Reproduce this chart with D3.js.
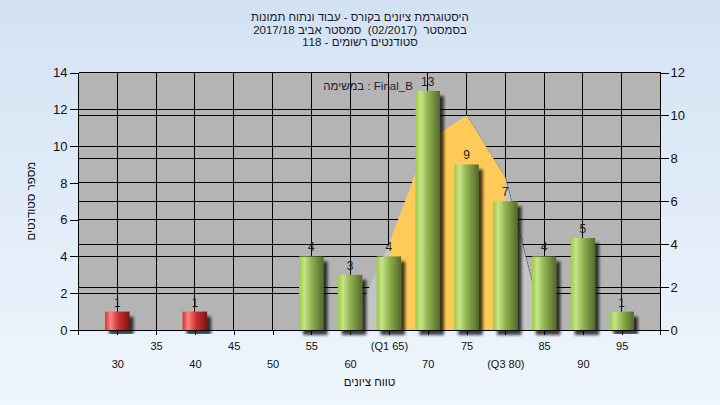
<!DOCTYPE html>
<html>
<head>
<meta charset="utf-8">
<script src="https://cdn.jsdelivr.net/npm/d3@7"></script>
<style>
  html, body { margin: 0; padding: 0; }
  body { width: 720px; height: 405px; overflow: hidden; }
  text { font-family: "Liberation Sans", Arial, sans-serif; }
</style>
</head>
<body>
<svg id="chart" width="720" height="405"></svg>
<script>
// ---- data ----
const categories = [30, 35, 40, 45, 50, 55, 60, 65, 70, 75, 80, 85, 90, 95];
const counts     = [1, 0, 1, 0, 0, 4, 3, 4, 13, 9, 7, 4, 5, 1];
const tickLabels = ["30", "35", "40", "45", "50", "55", "60", "(Q1 65)", "70", "75", "(Q3 80)", "85", "90", "95"];
const curveX = [60, 65, 70, 75, 80, 85];
const curveY = [0, 4, 8.8, 10, 7.1, 0];
const q1 = 65, q3 = 80;
const passMark = 55;
const leftTicks = [0, 2, 4, 6, 8, 10, 12, 14];
const rightTicks = [0, 2, 4, 6, 8, 10, 12];
const titleLines = [
  "היסטוגרמת ציונים בקורס - עבוד ונתוח תמונות",
  "בסמסטר  (02/2017)  סמסטר אביב 2017/18",
  "סטודנטים רשומים - 118"
];
const legendText = "במשימה : Final_B";
const xTitle = "טווח ציונים";
const yTitle = "מספר סטודנטים";

// ---- layout ----
const W = 720, H = 405;
const L = 78.5, R = 660.5, T = 72.5, B = 330;
const svg = d3.select("#chart");
const defs = svg.append("defs");

const bg = defs.append("linearGradient").attr("id", "bg").attr("x1", 0).attr("y1", 0).attr("x2", 0).attr("y2", 1);
bg.append("stop").attr("offset", "0%").attr("stop-color", "#d3e2f3");
bg.append("stop").attr("offset", "100%").attr("stop-color", "#eff6fd");

function cyl(id, stops) {
  const g = defs.append("linearGradient").attr("id", id).attr("x1", 0).attr("y1", 0).attr("x2", 1).attr("y2", 0);
  stops.forEach(s => g.append("stop").attr("offset", s[0]).attr("stop-color", s[1]));
}
cyl("green", [["0%", "#9ccb42"], ["22%", "#c6e48a"], ["50%", "#93b450"], ["100%", "#52692b"]]);
cyl("red", [["0%", "#e22a2a"], ["22%", "#ff8585"], ["55%", "#cc3030"], ["100%", "#7a1414"]]);

const sh = defs.append("filter").attr("id", "shadow").attr("x", "-30%").attr("y", "-10%").attr("width", "180%").attr("height", "130%");
sh.append("feGaussianBlur").attr("in", "SourceAlpha").attr("stdDeviation", 1.8).attr("result", "b");
sh.append("feOffset").attr("in", "b").attr("dx", 4).attr("dy", 5).attr("result", "o");
sh.append("feComponentTransfer").attr("in", "o").attr("result", "o2")
  .append("feFuncA").attr("type", "linear").attr("slope", 0.75);
const shm = sh.append("feMerge");
shm.append("feMergeNode").attr("in", "o2");
shm.append("feMergeNode").attr("in", "SourceGraphic");

const ash = defs.append("filter").attr("id", "ashadow").attr("x", "-10%").attr("y", "-10%").attr("width", "130%").attr("height", "130%");
ash.append("feOffset").attr("in", "SourceAlpha").attr("dx", 1.2).attr("dy", 0.6).attr("result", "o");
ash.append("feComponentTransfer").attr("in", "o").attr("result", "o2")
  .append("feFuncA").attr("type", "linear").attr("slope", 0.6);
const ashm = ash.append("feMerge");
ashm.append("feMergeNode").attr("in", "o2");
ashm.append("feMergeNode").attr("in", "SourceGraphic");

svg.append("rect").attr("width", W).attr("height", H).attr("fill", "url(#bg)");

// ---- scales ----
const x = d3.scaleLinear().domain([25, 100]).range([L, R]);
const yL = d3.scaleLinear().domain([0, 14]).range([B, T]);
const yR = d3.scaleLinear().domain([0, 12]).range([B, T]);

// plot background
svg.append("rect").attr("x", L).attr("y", T).attr("width", R - L).attr("height", B - T).attr("fill", "#b4b4b4");

// gridlines
const grid = svg.append("g").attr("stroke", "#000").attr("stroke-width", 1).attr("shape-rendering", "crispEdges");
leftTicks.forEach(v => grid.append("line").attr("x1", L).attr("x2", R).attr("y1", yL(v)).attr("y2", yL(v)));
rightTicks.forEach(v => grid.append("line").attr("x1", L).attr("x2", R).attr("y1", yR(v)).attr("y2", yR(v)));
categories.forEach(c => grid.append("line").attr("x1", x(c)).attr("x2", x(c)).attr("y1", T).attr("y2", B));

// distribution area
const pts = curveX.map((c, i) => [c, curveY[i]]);
const area = d3.area().x(d => x(d[0])).y0(B).y1(d => yR(d[1]));
defs.append("clipPath").attr("id", "iqr").append("rect")
  .attr("x", x(q1)).attr("y", T).attr("width", x(q3) - x(q1)).attr("height", B - T);
const ag = svg.append("g").attr("filter", "url(#ashadow)");
ag.append("path").attr("d", area(pts)).attr("fill", "#c4c4c4");
ag.append("path").attr("d", area(pts)).attr("fill", "#ffca58").attr("clip-path", "url(#iqr)");

// bars
const bw = 24.5;
const data = categories.map((c, i) => ({ c, n: counts[i] })).filter(d => d.n > 0);
svg.append("g").selectAll("rect").data(data).join("rect")
  .attr("x", d => x(d.c) - bw / 2)
  .attr("y", d => yL(d.n))
  .attr("width", bw)
  .attr("height", d => B - yL(d.n))
  .attr("fill", d => d.c < passMark ? "url(#red)" : "url(#green)")
  .attr("filter", "url(#shadow)");

svg.append("g").selectAll("text").data(data).join("text")
  .attr("x", d => x(d.c))
  .attr("y", d => yL(d.n) - 5)
  .attr("text-anchor", "middle")
  .attr("font-size", 12)
  .attr("fill", "#1e1e1e")
  .text(d => d.n);

// axes lines (frame)
const fr = svg.append("g").attr("stroke", "#000").attr("shape-rendering", "crispEdges");
fr.append("line").attr("x1", L).attr("x2", R).attr("y1", T).attr("y2", T);
fr.append("line").attr("x1", L).attr("x2", R).attr("y1", B).attr("y2", B);
fr.append("line").attr("x1", L).attr("x2", L).attr("y1", T).attr("y2", B + 5);
fr.append("line").attr("x1", R).attr("x2", R).attr("y1", T).attr("y2", B + 5);

// left axis
const la = svg.append("g").attr("transform", `translate(${L},0)`)
  .call(d3.axisLeft(yL).tickValues(leftTicks).tickSize(9).tickPadding(2).tickFormat(d3.format("d")));
la.select(".domain").remove();
la.selectAll("line").attr("shape-rendering", "crispEdges");
la.selectAll("text").attr("font-size", 13).attr("fill", "#111").style("font-family", '"Liberation Sans", Arial, sans-serif');

// right axis
const ra = svg.append("g").attr("transform", `translate(${R},0)`)
  .call(d3.axisRight(yR).tickValues(rightTicks).tickSize(8).tickPadding(2).tickFormat(d3.format("d")));
ra.select(".domain").remove();
ra.selectAll("line").attr("shape-rendering", "crispEdges");
ra.selectAll("text").attr("font-size", 13).attr("fill", "#111").style("font-family", '"Liberation Sans", Arial, sans-serif');

// bottom axis
const ba = svg.append("g").attr("transform", `translate(0,${B})`)
  .call(d3.axisBottom(x).tickValues(categories).tickSize(5).tickFormat((d, i) => tickLabels[i]));
ba.select(".domain").remove();
ba.selectAll("line").attr("shape-rendering", "crispEdges");
ba.selectAll("text")
  .attr("font-size", 11)
  .attr("fill", "#111")
  .style("font-family", '"Liberation Sans", Arial, sans-serif')
  .attr("y", (d, i) => i % 2 === 1 ? 12 : 30)
  .attr("dy", "0.71em");

// titles
svg.append("g").selectAll("text").data(titleLines).join("text")
  .attr("x", 360)
  .attr("y", (d, i) => 21 + i * 12.5)
  .attr("text-anchor", "middle")
  .attr("direction", "rtl")
  .attr("font-size", 11.5)
  .attr("fill", "#1a1a2a")
  .style("white-space", "pre")
  .text(d => d);

svg.append("text")
  .attr("x", 368).attr("y", 90)
  .attr("text-anchor", "middle")
  .attr("font-size", 11.5)
  .attr("fill", "#2a1a30")
  .text(legendText);

svg.append("text")
  .attr("x", (L + R) / 2).attr("y", 386)
  .attr("text-anchor", "middle")
  .attr("direction", "rtl")
  .attr("font-size", 11.5)
  .attr("fill", "#111")
  .text(xTitle);

svg.append("text")
  .attr("transform", `translate(35,${(T + B) / 2}) rotate(-90)`)
  .attr("text-anchor", "middle")
  .attr("direction", "rtl")
  .attr("font-size", 11.5)
  .attr("fill", "#111")
  .text(yTitle);
</script>
</body>
</html>
